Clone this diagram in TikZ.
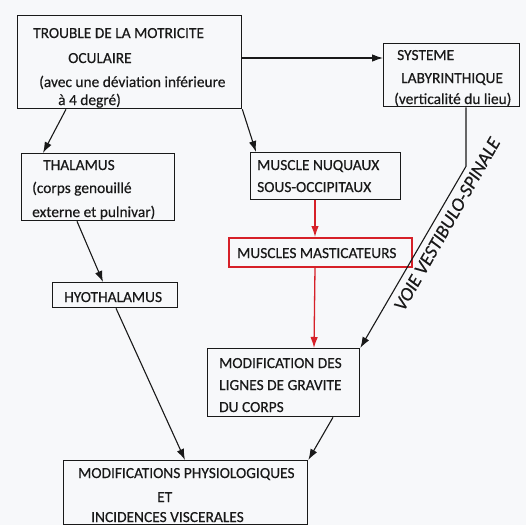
\documentclass[tikz,border=0pt]{standalone}
\usepackage{fontspec}
\setmainfont[FakeBold=0.4]{Carlito}
\usetikzlibrary{arrows.meta,calc}
\definecolor{bg}{RGB}{247,248,250}
\definecolor{ink}{RGB}{25,25,25}
\definecolor{redink}{RGB}{214,32,40}
\begin{document}
\begin{tikzpicture}[x=1pt,y=-1pt,
 box/.style={draw=ink, line width=1.3pt, rectangle, inner sep=0pt, anchor=north west},
 redbox/.style={box, draw=redink, line width=1.5pt},
 txt/.style={anchor=base west, inner sep=0pt, text=ink, font=\fontsize{15.4}{18}\selectfont},
 arr/.style={draw=ink, line width=1.1pt, -{Latex[length=11pt,width=7.5pt]}},
 redarr/.style={arr, draw=redink, line width=1.3pt},
 hand/.style={inner sep=0pt, text=ink, font=\fontsize{19}{19}\selectfont\itshape}
]
\fill[bg] (0,0) rectangle (526,525);
\useasboundingbox (0,0) rectangle (526,525);

% boxes
\node[box, minimum width=224pt, minimum height=93pt] (trouble) at (17,15) {};
\node[box, minimum width=136pt, minimum height=63pt] (systeme) at (383,43) {};
\node[box, minimum width=153pt, minimum height=67pt] (thalamus) at (21,153) {};
\node[box, minimum width=150pt, minimum height=47pt] (nuque) at (250,152) {};
\node[redbox, minimum width=183pt, minimum height=29pt] (mastic) at (228,237) {};
\node[box, minimum width=125pt, minimum height=25pt] (hyo) at (52,282) {};
\node[box, minimum width=152pt, minimum height=68pt] (gravite) at (207,348) {};
\node[box, minimum width=244pt, minimum height=64pt] (physio) at (63,460) {};

% texts
\node[txt] (tr1) at (33,38) {TROUBLE DE LA MOTRICITE};
\node[txt] (tr2) at (68,63) {OCULAIRE};
\node[txt] (tr3) at (39,87) {(avec une déviation inférieure};
\node[txt] (tr4) at (58,105) {à 4 degré)};

\node[txt] (sy1) at (397,60) {SYSTEME};
\node[txt] (sy2) at (401,83) {LABYRINTHIQUE};
\node[txt] (sy3) at (394,104) {(verticalité du lieu)};

\node[txt] (th1) at (43,170) {THALAMUS};
\node[txt] (th2) at (32,193) {(corps genouillé};
\node[txt] (th3) at (32,217) {externe et pulnivar)};

\node[txt] (nu1) at (257,170) {MUSCLE NUQUAUX};
\node[txt] (nu2) at (257,192) {SOUS-OCCIPITAUX};

\node[txt] (ma1) at (237,258) {MUSCLES MASTICATEURS};

\node[txt] (hy1) at (64,302) {HYOTHALAMUS};

\node[txt] (gr1) at (219,368) {MODIFICATION DES};
\node[txt] (gr2) at (219,390) {LIGNES DE GRAVITE};
\node[txt] (gr3) at (219,412) {DU CORPS};

\node[txt] (ph1) at (78,478) {MODIFICATIONS PHYSIOLOGIQUES};
\node[txt] (ph2) at (157,502) {ET};
\node[txt] (ph3) at (91,522) {INCIDENCES VISCERALES};

% connectors
\draw[arr] ($(trouble.north east)+(0,43)$) -- ($(systeme.north west)+(0,15)$);
\draw[arr] ($(trouble.south west)+(49,0)$) -- ($(thalamus.north west)+(22,0)$);
\draw[arr] (trouble.south east) -- ($(nuque.north west)+(6,0)$);
\coordinate (bend) at ($(systeme.south west)+(83,59)$);
\draw[arr] ($(systeme.south west)+(83,0)$) -- (bend) -- (gravite.north east);
\draw[redarr] ($(nuque.south west)+(65,0)$) -- ($(mastic.north west)+(87,0)$);
\draw[redarr] ($(mastic.south west)+(87,0)$) -- ($(gravite.north west)+(107,0)$);
\draw[arr] ($(thalamus.south west)+(56,0)$) -- ($(hyo.north west)+(51,0)$);
\draw[arr] ($(hyo.south west)+(64,0)$) -- ($(physio.north west)+(122,0)$);
\draw[arr] ($(gravite.south west)+(126,0)$) -- (physio.north east);

% label of the vestibulo-spinal path
\node[hand, rotate=60.3] (voie) at (447,224) {VOIE VESTIBULO-SPINALE};
\end{tikzpicture}
\end{document}
